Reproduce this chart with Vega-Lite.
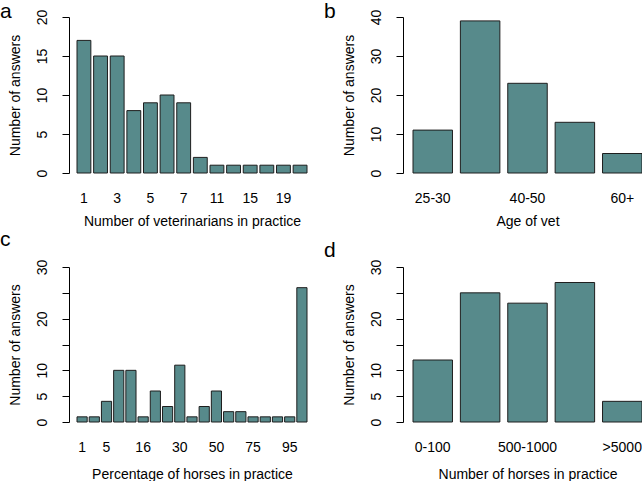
{
  "$schema": "https://vega.github.io/schema/vega-lite/v6.json",
  "padding": {"left": 0, "top": 1, "right": 0, "bottom": 0},
  "background": "white",
  "columns": 2,
  "spacing": {"row": 94, "column": 106},
  "bounds": "flush",
  "config": {
    "view": {"stroke": null},
    "font": "Liberation Sans",
    "axis": {
      "labelFont": "Liberation Sans",
      "titleFont": "Liberation Sans",
      "labelFontSize": 14,
      "titleFontSize": 14,
      "titleFontWeight": "normal",
      "labelColor": "#000",
      "titleColor": "#000",
      "grid": false
    },
    "axisY": {
      "domainColor": "#000",
      "tickColor": "#000",
      "tickSize": 7,
      "labelAngle": 270,
      "labelAlign": "center",
      "labelBaseline": "bottom",
      "labelPadding": 13,
      "titlePadding": 13
    },
    "axisX": {
      "domain": false,
      "ticks": false,
      "tickSize": 0,
      "labelAngle": 0,
      "labelBaseline": "top",
      "labelPadding": 18,
      "titlePadding": 9
    },
    "title": {"font": "Liberation Sans", "fontSize": 21, "fontWeight": "normal", "color": "#000", "anchor": "start", "frame": "bounds", "baseline": "alphabetic", "offset": 0},
    "bar": {"fill": "#578a8b", "stroke": "#1e1e1e", "strokeWidth": 1}
  },
  "concat": [
    {
      "title": {"text": "a", "dx": -8, "dy": 17},
      "width": 230,
      "height": 156,
      "data": {"values": [
        {"cat": "1", "n": 17}, {"cat": "2", "n": 15}, {"cat": "3", "n": 15}, {"cat": "4", "n": 8},
        {"cat": "5", "n": 9}, {"cat": "6", "n": 10}, {"cat": "7", "n": 9}, {"cat": "8", "n": 2},
        {"cat": "11", "n": 1}, {"cat": "13", "n": 1}, {"cat": "15", "n": 1}, {"cat": "17", "n": 1},
        {"cat": "19", "n": 1}, {"cat": "22", "n": 1}
      ]},
      "mark": {"type": "bar"},
      "encoding": {
        "x": {"field": "cat", "type": "nominal", "sort": null,
              "scale": {"paddingInner": 0.1667, "paddingOuter": 0},
              "axis": {"title": "Number of veterinarians in practice",
                       "labelExpr": "indexof(['1','3','5','7','11','15','19'], datum.value) >= 0 ? datum.label : ''"}},
        "y": {"field": "n", "type": "quantitative",
              "scale": {"domain": [0, 20], "nice": false},
              "axis": {"title": "Number of answers", "values": [0, 5, 10, 15, 20], "offset": 8}}
      }
    },
    {
      "title": {"text": "b", "dx": -18, "dy": 17},
      "width": 229,
      "height": 156,
      "data": {"values": [
        {"cat": "25-30", "n": 11}, {"cat": "30-40", "n": 39}, {"cat": "40-50", "n": 23},
        {"cat": "50-60", "n": 13}, {"cat": "60+", "n": 5}
      ]},
      "mark": {"type": "bar"},
      "encoding": {
        "x": {"field": "cat", "type": "nominal", "sort": null,
              "scale": {"paddingInner": 0.1667, "paddingOuter": 0},
              "axis": {"title": "Age of vet",
                       "labelExpr": "indexof(['25-30','40-50','60+'], datum.value) >= 0 ? datum.label : ''"}},
        "y": {"field": "n", "type": "quantitative",
              "scale": {"domain": [0, 40], "nice": false},
              "axis": {"title": "Number of answers", "values": [0, 10, 20, 30, 40], "offset": 10}}
      }
    },
    {
      "title": {"text": "c", "dx": -8, "dy": -5},
      "width": 230,
      "height": 155,
      "data": {"values": [
        {"cat": "1", "n": 1}, {"cat": "2", "n": 1}, {"cat": "5", "n": 4}, {"cat": "10", "n": 10},
        {"cat": "15", "n": 10}, {"cat": "16", "n": 1}, {"cat": "20", "n": 6}, {"cat": "25", "n": 3},
        {"cat": "30", "n": 11}, {"cat": "35", "n": 1}, {"cat": "40", "n": 3}, {"cat": "50", "n": 6},
        {"cat": "60", "n": 2}, {"cat": "70", "n": 2}, {"cat": "75", "n": 1}, {"cat": "80", "n": 1},
        {"cat": "90", "n": 1}, {"cat": "95", "n": 1}, {"cat": "100", "n": 26}
      ]},
      "mark": {"type": "bar"},
      "encoding": {
        "x": {"field": "cat", "type": "nominal", "sort": null,
              "scale": {"paddingInner": 0.1667, "paddingOuter": 0},
              "axis": {"title": "Percentage of horses in practice", "titlePadding": 13,
                       "labelExpr": "indexof(['1','5','16','30','50','75','95'], datum.value) >= 0 ? datum.label : ''"}},
        "y": {"field": "n", "type": "quantitative",
              "scale": {"domain": [0, 30], "nice": false},
              "axis": {"title": "Number of answers", "values": [0, 5, 10, 15, 20, 25, 30], "offset": 8,
                       "labelExpr": "datum.value == 15 || datum.value == 25 ? '' : datum.label"}}
      }
    },
    {
      "title": {"text": "d", "dx": -18, "dy": 6},
      "width": 229,
      "height": 155,
      "data": {"values": [
        {"cat": "0-100", "n": 12}, {"cat": "100-500", "n": 25}, {"cat": "500-1000", "n": 23},
        {"cat": "1000-5000", "n": 27}, {"cat": ">5000", "n": 4}
      ]},
      "mark": {"type": "bar"},
      "encoding": {
        "x": {"field": "cat", "type": "nominal", "sort": null,
              "scale": {"paddingInner": 0.1667, "paddingOuter": 0},
              "axis": {"title": "Number of horses in practice", "titlePadding": 13,
                       "labelExpr": "indexof(['0-100','500-1000','>5000'], datum.value) >= 0 ? datum.label : ''"}},
        "y": {"field": "n", "type": "quantitative",
              "scale": {"domain": [0, 30], "nice": false},
              "axis": {"title": "Number of answers", "values": [0, 5, 10, 15, 20, 25, 30], "offset": 10,
                       "labelExpr": "datum.value == 15 || datum.value == 25 ? '' : datum.label"}}
      }
    }
  ]
}
